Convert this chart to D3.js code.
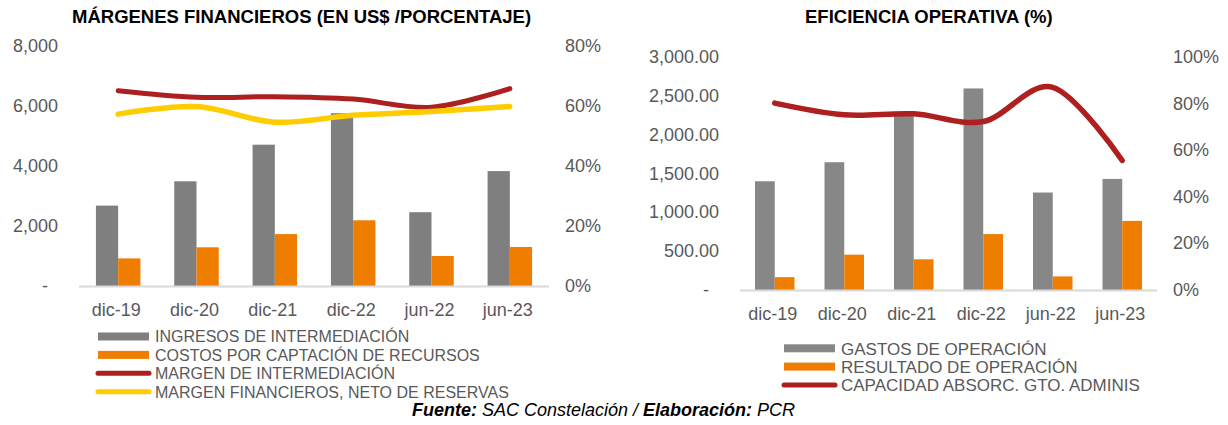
<!DOCTYPE html>
<html>
<head>
<meta charset="utf-8">
<script src="https://cdn.jsdelivr.net/npm/d3@7"></script>
<style>
  body { margin: 0; background: #fff; }
  svg text { font-family: "Liberation Sans", Arial, sans-serif; }
</style>
</head>
<body>
<svg id="chart" width="1228" height="425"></svg>
<script>
// categories shared by both charts
const categories = ["dic-19", "dic-20", "dic-21", "dic-22", "jun-22", "jun-23"];

// left chart: margenes financieros
const ingresos = [2680, 3490, 4710, 5760, 2460, 3830];
const costos = [920, 1290, 1730, 2190, 1000, 1300];
const margenInter = [0.651, 0.629, 0.631, 0.623, 0.596, 0.658];
const margenNeto = [0.573, 0.598, 0.546, 0.569, 0.582, 0.598];
const leftTicks = [0, 2000, 4000, 6000, 8000];
const leftPctTicks = [0, 0.2, 0.4, 0.6, 0.8];

// right chart: eficiencia operativa
const gastos = [1400, 1645, 2250, 2595, 1255, 1430];
const resultado = [165, 455, 395, 720, 175, 890];
const capacidad = [0.802, 0.752, 0.756, 0.723, 0.870, 0.556];
const rightTicks = [0, 500, 1000, 1500, 2000, 2500, 3000];
const rightPctTicks = [0, 0.2, 0.4, 0.6, 0.8, 1];

const svg = d3.select("#chart");
const tickColor = "#595959";

function drawPanel(cfg) {
  const g = svg.append("g");
  const x = d3.scaleBand().domain(categories).range([cfg.x0, cfg.x1]);
  const y = d3.scaleLinear().domain([0, cfg.yMax]).range([cfg.yBase, cfg.yTop]);
  const y2 = d3.scaleLinear().domain([0, cfg.pMax]).range([cfg.yBase, cfg.yTop]);
  const bw = x.bandwidth() * 0.284;

  // title
  g.append("text")
    .attr("x", cfg.titleX).attr("y", 23)
    .attr("font-size", 18.5).attr("font-weight", "bold").attr("fill", "#000")
    .text(cfg.title);

  // left axis labels
  g.selectAll(".ly").data(cfg.ticks).enter().append("text")
    .attr("x", d => d === 0 ? cfg.dashX : cfg.labelRight)
    .attr("y", d => y(d) + 6)
    .attr("text-anchor", "end")
    .attr("font-size", 18).attr("fill", tickColor)
    .text(d => d === 0 ? "-" : cfg.fmt(d));

  // right axis labels
  g.selectAll(".ry").data(cfg.pTicks).enter().append("text")
    .attr("x", cfg.pLabelLeft)
    .attr("y", d => y2(d) + 6)
    .attr("font-size", 18).attr("fill", tickColor)
    .text(d => d3.format(".0%")(d));

  // bars
  g.selectAll(".b1").data(cfg.bars1).enter().append("rect")
    .attr("x", (d, i) => x(categories[i]) + x.bandwidth() / 2 - bw)
    .attr("y", d => y(d)).attr("width", bw)
    .attr("height", d => cfg.yBase - y(d))
    .attr("fill", cfg.gray);
  g.selectAll(".b2").data(cfg.bars2).enter().append("rect")
    .attr("x", (d, i) => x(categories[i]) + x.bandwidth() / 2)
    .attr("y", d => y(d)).attr("width", bw)
    .attr("height", d => cfg.yBase - y(d))
    .attr("fill", "#ee7d00");

  // axis line
  g.append("line")
    .attr("x1", cfg.x0).attr("x2", cfg.x1)
    .attr("y1", cfg.yBase + 0.5).attr("y2", cfg.yBase + 0.5)
    .attr("stroke", "#d9d9d9").attr("stroke-width", 2);

  // x labels
  g.selectAll(".xl").data(categories).enter().append("text")
    .attr("x", d => x(d) + x.bandwidth() / 2 - 2)
    .attr("y", cfg.xLabelY)
    .attr("text-anchor", "middle")
    .attr("font-size", 18).attr("fill", tickColor)
    .text(d => d);

  // smoothed lines
  const line = d3.line()
    .x((d, i) => x(categories[i]) + x.bandwidth() / 2)
    .y(d => y2(d))
    .curve(d3.curveCatmullRom.alpha(0));
  cfg.lines.forEach(l => {
    g.append("path").datum(l.values)
      .attr("d", line)
      .attr("fill", "none")
      .attr("stroke", l.color).attr("stroke-width", l.width)
      .attr("stroke-linecap", "round");
  });

  // legend
  cfg.legend.forEach((item, i) => {
    const ly = cfg.legY + i * cfg.legStep;
    if (item.type === "rect") {
      g.append("rect").attr("x", cfg.legX).attr("y", ly - 4)
        .attr("width", 51).attr("height", 8).attr("fill", item.color);
    } else {
      g.append("line").attr("x1", cfg.legX).attr("x2", cfg.legX + 51)
        .attr("y1", ly).attr("y2", ly)
        .attr("stroke", item.color).attr("stroke-width", 5)
        .attr("stroke-linecap", "round");
    }
    g.append("text").attr("x", cfg.legX + 57).attr("y", ly + cfg.legFont * 0.37)
      .attr("font-size", cfg.legFont).attr("fill", tickColor)
      .text(item.label);
  });
}

drawPanel({
  title: "MÁRGENES FINANCIEROS (EN US$ /PORCENTAJE)", titleX: 72,
  x0: 79, x1: 549, yBase: 286, yTop: 46, yMax: 8000, pMax: 0.8,
  ticks: leftTicks, pTicks: leftPctTicks, fmt: d3.format(","),
  labelRight: 58, dashX: 48, pLabelLeft: 565,
  xLabelY: 316, gray: "#7f7f7f",
  bars1: ingresos, bars2: costos,
  lines: [
    { values: margenInter, color: "#ae1f1f", width: 5 },
    { values: margenNeto, color: "#ffcc00", width: 5.5 }
  ],
  legX: 98, legY: 336.5, legStep: 18.4, legFont: 16,
  legend: [
    { type: "rect", color: "#7f7f7f", label: "INGRESOS DE INTERMEDIACIÓN" },
    { type: "rect", color: "#ee7d00", label: "COSTOS POR CAPTACIÓN DE RECURSOS" },
    { type: "line", color: "#ae1f1f", label: "MARGEN DE INTERMEDIACIÓN" },
    { type: "line", color: "#ffcc00", label: "MARGEN FINANCIEROS, NETO DE RESERVAS" }
  ]
});

drawPanel({
  title: "EFICIENCIA OPERATIVA (%)", titleX: 805,
  x0: 740, x1: 1157, yBase: 290, yTop: 57, yMax: 3000, pMax: 1,
  ticks: rightTicks, pTicks: rightPctTicks, fmt: d3.format(",.2f"),
  labelRight: 719, dashX: 709, pLabelLeft: 1173,
  xLabelY: 320, gray: "#878787",
  bars1: gastos, bars2: resultado,
  lines: [
    { values: capacidad, color: "#ae1f1f", width: 5.5 }
  ],
  legX: 784, legY: 348.3, legStep: 18.3, legFont: 17,
  legend: [
    { type: "rect", color: "#878787", label: "GASTOS DE OPERACIÓN" },
    { type: "rect", color: "#ee7d00", label: "RESULTADO DE OPERACIÓN" },
    { type: "line", color: "#ae1f1f", label: "CAPACIDAD ABSORC. GTO. ADMINIS" }
  ]
});

// footer
const foot = svg.append("text")
  .attr("x", 412).attr("y", 416)
  .attr("font-size", 18).attr("font-style", "italic").attr("fill", "#000");
foot.append("tspan").attr("font-weight", "bold").text("Fuente:");
foot.append("tspan").text(" SAC Constelación / ");
foot.append("tspan").attr("font-weight", "bold").text("Elaboración:");
foot.append("tspan").text(" PCR");
</script>
</body>
</html>
